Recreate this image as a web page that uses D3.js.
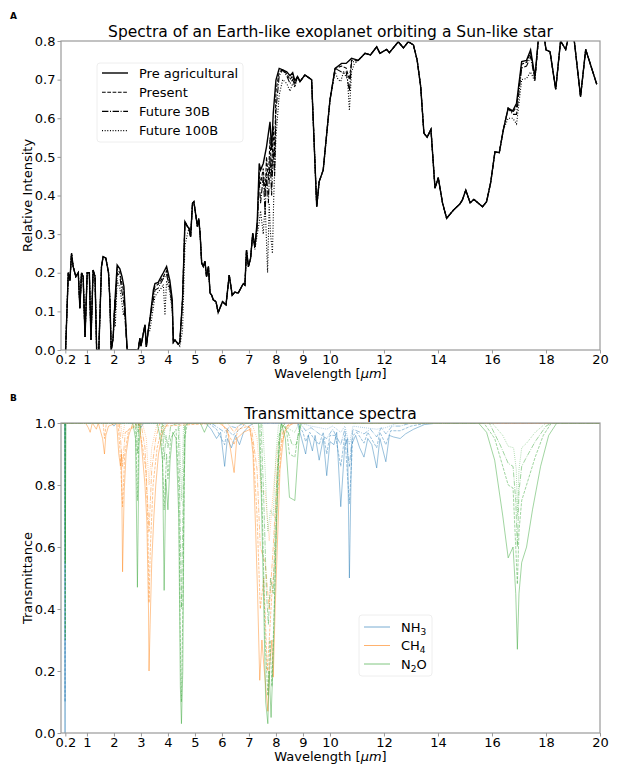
<!DOCTYPE html>
<html lang="en">

<head>
    <meta charset="UTF-8">
    <title>Exoplanet spectra</title>
    <script src="https://cdn.jsdelivr.net/npm/d3@7"></script>

    <style type="text/css">
        body { margin: 0; background: #fff; }
        svg text { font-family: "DejaVu Sans", sans-serif; fill: #000; }
        .spine { fill: none; stroke: #9a9a9a; stroke-width: 1.2; }
        .tick line { stroke: #9a9a9a; }
    </style>
</head>

<body>

    <svg id="chart"></svg>

    <script>

        // ---------- data ----------

        var xTicks = [0.2, 1, 2, 3, 4, 5, 6, 7, 8, 9, 10, 12, 14, 16, 18, 20];
        var yTicksA = [0, 0.1, 0.2, 0.3, 0.4, 0.5, 0.6, 0.7, 0.8];
        var yTicksB = [0, 0.2, 0.4, 0.6, 0.8, 1.0];

        var scenarioNames = ["Pre agricultural", "Present", "Future 30B", "Future 100B"];

        // Pre agricultural spectrum [wavelength um, relative intensity]
        var preAgricultural = [
            [0.21, 0], [0.31, 0.2], [0.37, 0.18], [0.43, 0.25], [0.49, 0.216], [0.59, 0.19], [0.68, 0.2],
            [0.74, 0.108], [0.8, 0.2], [0.86, 0.19], [0.93, 0.034], [1.01, 0.2], [1.09, 0.2], [1.15, 0.026],
            [1.23, 0.207], [1.3, 0.19], [1.36, 0], [1.44, 0], [1.54, 0.216], [1.6, 0.242], [1.7, 0.238],
            [1.8, 0.2], [1.85, 0.13], [1.9, 0], [1.97, 0.03], [2.04, 0.13], [2.12, 0.22], [2.22, 0.21],
            [2.3, 0.19], [2.37, 0.164], [2.49, 0], [2.9, 0], [2.96, 0.03], [3.0, 0.01], [3.08, 0.04],
            [3.15, 0.065], [3.2, 0.008], [3.27, 0.05], [3.33, 0.078], [3.46, 0.155], [3.52, 0.172],
            [3.64, 0.175], [3.75, 0.19], [3.83, 0.2], [3.95, 0.216], [4.07, 0.18], [4.16, 0.13], [4.2, 0.02],
            [4.26, 0.026], [4.38, 0.015], [4.44, 0.02], [4.54, 0.13], [4.63, 0.332], [4.72, 0.32],
            [4.78, 0.315], [4.84, 0.293], [4.91, 0.38], [4.96, 0.384], [5.04, 0.345], [5.09, 0.32],
            [5.14, 0.34], [5.19, 0.302], [5.25, 0.225], [5.31, 0.216], [5.37, 0.23], [5.43, 0.19],
            [5.5, 0.216], [5.56, 0.147], [5.62, 0.142], [5.68, 0.13], [5.78, 0.125], [5.86, 0.097],
            [6.02, 0.125], [6.15, 0.117], [6.27, 0.194], [6.38, 0.142], [6.48, 0.15], [6.6, 0.147],
            [6.79, 0.172], [6.85, 0.168], [6.91, 0.259], [6.98, 0.216], [7.06, 0.237], [7.14, 0.302],
            [7.22, 0.267], [7.31, 0.337], [7.38, 0.483], [7.43, 0.466], [7.53, 0.483], [7.65, 0.526],
            [7.78, 0.591], [7.84, 0.518], [7.9, 0.613], [8.0, 0.699], [8.12, 0.729], [8.25, 0.725],
            [8.4, 0.72], [8.52, 0.71], [8.62, 0.718], [8.7, 0.697], [8.8, 0.708], [8.89, 0.695],
            [9.07, 0.712], [9.32, 0.70], [9.51, 0.371], [9.6, 0.436], [9.75, 0.466], [10.0, 0.647],
            [10.19, 0.729], [10.43, 0.742], [10.6, 0.742], [10.8, 0.755], [11.05, 0.75], [11.3, 0.768],
            [11.5, 0.764], [11.73, 0.785], [11.85, 0.768], [12.1, 0.778], [12.2, 0.77], [12.53, 0.798],
            [12.72, 0.782], [12.9, 0.798], [13.09, 0.79], [13.23, 0.75], [13.36, 0.682], [13.48, 0.561],
            [13.6, 0.551], [13.74, 0.571], [13.89, 0.419], [14.01, 0.446], [14.17, 0.38], [14.32, 0.341],
            [14.57, 0.362], [14.81, 0.378], [14.9, 0.388], [15.03, 0.414], [15.19, 0.381], [15.33, 0.39],
            [15.65, 0.371], [15.8, 0.384], [15.95, 0.433], [16.11, 0.513], [16.27, 0.511], [16.42, 0.57],
            [16.6, 0.626], [16.77, 0.619], [16.91, 0.639], [17.1, 0.747], [17.28, 0.75], [17.43, 0.777],
            [17.59, 0.708], [17.75, 0.83], [17.9, 0.83], [18.0, 0.777], [18.15, 0.772], [18.36, 0.675],
            [18.54, 0.8], [18.73, 0.778], [18.89, 0.83], [19.0, 0.83], [19.28, 0.656], [19.47, 0.778],
            [19.88, 0.688]
        ];

        // the other scenarios only differ from pre agricultural inside these bands
        var presentBands = [
            [[2.05, 0.12], [2.12, 0.21], [2.22, 0.2], [2.3, 0.17], [2.37, 0.15], [2.49, 0]],
            [[3.46, 0.145], [3.52, 0.165], [3.64, 0.17], [3.83, 0.19], [3.95, 0.205], [4.07, 0.17], [4.16, 0.12]],
            [[7.31, 0.33], [7.38, 0.46], [7.43, 0.43], [7.53, 0.47], [7.6, 0.4], [7.65, 0.5], [7.72, 0.44],
             [7.78, 0.55], [7.84, 0.45], [7.9, 0.58], [7.95, 0.5], [8.0, 0.67], [8.12, 0.72]],
            [[8.4, 0.715], [8.52, 0.7], [8.62, 0.71], [8.7, 0.69]],
            [[10.43, 0.735], [10.6, 0.73], [10.72, 0.7], [10.8, 0.75]],
            [[16.77, 0.615], [16.91, 0.63], [17.1, 0.74], [17.28, 0.745], [17.43, 0.77], [17.59, 0.7]]
        ];

        var future30Bands = [
            [[2.05, 0.1], [2.12, 0.2], [2.22, 0.19], [2.3, 0.15], [2.37, 0.12], [2.49, 0]],
            [[3.46, 0.13], [3.52, 0.155], [3.64, 0.16], [3.83, 0.185], [3.95, 0.195], [4.07, 0.16], [4.16, 0.11]],
            [[7.31, 0.32], [7.38, 0.44], [7.43, 0.38], [7.53, 0.45], [7.6, 0.35], [7.65, 0.46], [7.72, 0.38],
             [7.78, 0.5], [7.84, 0.4], [7.9, 0.52], [7.95, 0.45], [8.0, 0.62], [8.12, 0.71]],
            [[8.4, 0.71], [8.52, 0.69], [8.62, 0.7], [8.7, 0.685]],
            [[10.43, 0.72], [10.6, 0.72], [10.72, 0.67], [10.8, 0.745]],
            [[16.77, 0.61], [16.91, 0.61], [17.1, 0.73], [17.28, 0.735], [17.43, 0.76], [17.59, 0.7]]
        ];

        var future100Bands = [
            [[2.05, 0.06], [2.12, 0.18], [2.22, 0.16], [2.3, 0.12], [2.35, 0.09], [2.4, 0.11], [2.49, 0]],
            [[3.33, 0.05], [3.46, 0.11], [3.52, 0.14], [3.64, 0.15], [3.75, 0.16], [3.83, 0.17], [3.89, 0.09],
             [3.95, 0.18], [4.07, 0.15], [4.16, 0.1]],
            [[4.44, 0.01], [4.54, 0.05], [4.63, 0.27], [4.72, 0.3]],
            [[7.22, 0.26], [7.31, 0.3], [7.38, 0.33], [7.43, 0.36], [7.53, 0.3], [7.6, 0.38], [7.69, 0.2],
             [7.75, 0.38], [7.8, 0.3], [7.87, 0.25], [7.92, 0.4], [8.0, 0.55], [8.12, 0.66], [8.25, 0.7]],
            [[8.4, 0.69], [8.52, 0.67], [8.62, 0.69], [8.7, 0.68]],
            [[10.19, 0.72], [10.3, 0.7], [10.4, 0.695], [10.5, 0.72], [10.65, 0.7], [10.72, 0.62], [10.8, 0.72], [10.9, 0.74]],
            [[16.6, 0.6], [16.77, 0.6], [16.91, 0.585], [17.1, 0.7], [17.28, 0.703], [17.43, 0.72], [17.59, 0.695]]
        ];

        // Transmittance, four concentrations per gas [wavelength um, transmittance]
        var nh3Lines = [
            [[0.04, 1], [0.17, 1], [0.19, 0], [0.21, 1], [1.9, 1], [2.0, 0.99], [2.1, 1], [2.9, 1], [3.0, 0.985],
             [3.1, 1], [5.4, 1], [5.6, 0.98], [5.8, 0.95], [5.95, 0.97], [6.1, 0.86], [6.2, 0.95], [6.35, 0.92],
             [6.5, 0.96], [6.65, 0.93], [6.8, 0.97], [7.0, 0.99], [7.2, 1], [8.8, 1], [8.95, 0.95], [9.1, 0.9],
             [9.2, 0.96], [9.35, 0.91], [9.45, 0.96], [9.6, 0.88], [9.75, 0.95], [9.88, 0.83], [10.0, 0.94],
             [10.15, 0.93], [10.25, 0.97], [10.4, 0.73], [10.55, 0.93], [10.65, 0.95], [10.72, 0.5], [10.8, 0.93],
             [10.95, 0.96], [11.1, 0.92], [11.26, 0.89], [11.4, 0.95], [11.55, 0.93], [11.73, 0.855], [11.85, 0.95],
             [12.07, 0.875], [12.2, 0.96], [12.35, 0.955], [12.6, 0.95], [12.8, 0.965], [13.1, 0.98], [13.5, 0.995],
             [14, 1], [20, 1]],
            [[0.04, 1], [0.18, 1], [0.19, 0.1], [0.2, 1], [5.5, 1], [5.8, 0.98], [6.1, 0.93], [6.2, 0.98], [6.4, 0.96],
             [6.6, 0.975], [6.9, 1], [8.8, 1], [9.0, 0.97], [9.1, 0.94], [9.25, 0.97], [9.4, 0.95], [9.6, 0.93],
             [9.75, 0.97], [9.88, 0.9], [10.0, 0.96], [10.2, 0.96], [10.4, 0.86], [10.55, 0.96], [10.72, 0.74],
             [10.85, 0.96], [11.0, 0.97], [11.26, 0.935], [11.4, 0.97], [11.73, 0.92], [11.85, 0.97], [12.07, 0.93],
             [12.25, 0.975], [12.6, 0.975], [13.0, 0.99], [13.6, 1], [20, 1]],
            [[0.04, 1], [5.6, 1], [6.1, 0.97], [6.3, 0.99], [6.5, 0.985], [6.8, 1], [8.9, 1], [9.1, 0.975],
             [9.3, 0.985], [9.6, 0.965], [9.88, 0.95], [10.1, 0.98], [10.4, 0.93], [10.55, 0.98], [10.72, 0.86],
             [10.85, 0.98], [11.26, 0.965], [11.5, 0.98], [11.73, 0.955], [11.9, 0.985], [12.07, 0.965],
             [12.3, 0.99], [12.6, 0.99], [13.0, 1], [20, 1]],
            [[0.04, 1], [8.9, 1], [9.3, 0.99], [9.6, 0.985], [9.88, 0.98], [10.1, 0.99], [10.4, 0.97], [10.55, 0.99],
             [10.72, 0.93], [10.85, 0.99], [11.26, 0.985], [11.73, 0.98], [12.07, 0.985], [12.5, 1], [20, 1]]
        ];

        var ch4Lines = [
            [[0.04, 1], [0.95, 1], [1.05, 0.985], [1.12, 0.97], [1.2, 1], [1.35, 0.98], [1.42, 1], [1.58, 0.95],
             [1.65, 0.9], [1.7, 0.96], [1.8, 0.99], [2.1, 1], [2.18, 0.9], [2.24, 0.86], [2.28, 0.9], [2.32, 0.52],
             [2.38, 0.78], [2.45, 0.9], [2.55, 0.96], [2.7, 1], [2.95, 1], [3.05, 0.9], [3.15, 0.8], [3.22, 0.68],
             [3.28, 0.4], [3.3, 0.2], [3.34, 0.35], [3.4, 0.55], [3.48, 0.7], [3.55, 0.8], [3.65, 0.9], [3.8, 0.97],
             [4.0, 1], [5.9, 1], [6.2, 0.98], [6.45, 0.84], [6.55, 0.95], [6.8, 0.97], [7.05, 0.98], [7.15, 0.9],
             [7.25, 0.65], [7.32, 0.45], [7.4, 0.17], [7.48, 0.3], [7.55, 0.22], [7.65, 0.12], [7.7, 0.07],
             [7.75, 0.2], [7.85, 0.3], [7.9, 0.18], [7.97, 0.4], [8.05, 0.6], [8.15, 0.85], [8.3, 0.97], [8.6, 1],
             [20, 1]],
            [[0.04, 1], [1.6, 1], [1.65, 0.95], [1.72, 1], [2.15, 1], [2.22, 0.92], [2.32, 0.73], [2.4, 0.9],
             [2.55, 0.98], [2.9, 1], [3.05, 0.93], [3.18, 0.85], [3.25, 0.7], [3.3, 0.42], [3.35, 0.6], [3.45, 0.8],
             [3.6, 0.92], [3.8, 0.99], [6.0, 1], [6.45, 0.93], [6.6, 0.98], [7.0, 0.99], [7.15, 0.93], [7.3, 0.7],
             [7.42, 0.4], [7.55, 0.5], [7.68, 0.2], [7.75, 0.3], [7.85, 0.45], [7.95, 0.55], [8.05, 0.75],
             [8.2, 0.93], [8.4, 0.99], [8.7, 1], [20, 1]],
            [[0.04, 1], [2.2, 1], [2.32, 0.86], [2.42, 0.97], [3.0, 1], [3.15, 0.92], [3.3, 0.65], [3.4, 0.85],
             [3.55, 0.95], [3.7, 1], [6.2, 1], [6.45, 0.97], [6.7, 1], [7.1, 0.98], [7.3, 0.85], [7.42, 0.6],
             [7.6, 0.55], [7.75, 0.4], [7.9, 0.6], [8.05, 0.85], [8.25, 0.97], [8.5, 1], [20, 1]],
            [[0.04, 1], [2.25, 1], [2.32, 0.95], [2.4, 1], [3.05, 1], [3.2, 0.95], [3.3, 0.8], [3.4, 0.92],
             [3.6, 1], [7.1, 1], [7.3, 0.95], [7.45, 0.78], [7.6, 0.78], [7.75, 0.62], [7.9, 0.78], [8.05, 0.92],
             [8.3, 1], [20, 1]]
        ];

        var n2oLines = [
            [[0.04, 1], [0.18, 1], [0.2, 0.55], [0.22, 1], [2.7, 1], [2.8, 0.95], [2.87, 0.47], [2.93, 0.93],
             [3.0, 1], [3.6, 1], [3.7, 0.96], [3.8, 0.88], [3.86, 0.46], [3.92, 0.82], [4.0, 0.72], [4.08, 0.88],
             [4.18, 0.97], [4.3, 0.95], [4.4, 0.7], [4.46, 0.15], [4.5, 0.03], [4.55, 0.2], [4.6, 0.8],
             [4.65, 0.99], [4.72, 1], [5.2, 1], [5.35, 0.97], [5.5, 1], [7.35, 1], [7.45, 0.8], [7.55, 0.4],
             [7.62, 0.1], [7.7, 0.03], [7.75, 0.2], [7.82, 0.05], [7.9, 0.25], [8.0, 0.6], [8.1, 0.9], [8.2, 1],
             [8.35, 0.95], [8.5, 0.76], [8.7, 0.75], [8.8, 0.88], [8.9, 1], [15.5, 1], [15.8, 0.97], [16.1, 0.88],
             [16.4, 0.7], [16.6, 0.565], [16.78, 0.6], [16.88, 0.45], [16.94, 0.27], [17.0, 0.45], [17.1, 0.55],
             [17.28, 0.6], [17.5, 0.72], [17.8, 0.86], [18.1, 0.96], [18.4, 1], [20, 1]],
            [[0.04, 1], [0.19, 1], [0.2, 0.3], [0.21, 1], [2.8, 1], [2.87, 0.75], [2.93, 1], [3.75, 1],
             [3.86, 0.72], [3.95, 0.9], [4.0, 0.82], [4.1, 0.95], [4.3, 0.98], [4.4, 0.8], [4.46, 0.3], [4.5, 0.1],
             [4.55, 0.4], [4.62, 0.95], [4.72, 1], [7.4, 1], [7.5, 0.7], [7.6, 0.3], [7.7, 0.12], [7.78, 0.3],
             [7.85, 0.15], [7.95, 0.45], [8.05, 0.8], [8.15, 0.97], [8.3, 1], [8.4, 0.97], [8.5, 0.9], [8.7, 0.89],
             [8.8, 0.95], [8.95, 1], [15.7, 1], [16.1, 0.95], [16.4, 0.86], [16.6, 0.8], [16.78, 0.79],
             [16.88, 0.6], [16.94, 0.48], [17.0, 0.65], [17.1, 0.75], [17.28, 0.8], [17.6, 0.89], [17.9, 0.96],
             [18.2, 1], [20, 1]],
            [[0.04, 1], [2.82, 1], [2.87, 0.9], [2.92, 1], [3.8, 1], [3.86, 0.88], [3.93, 0.96], [4.0, 0.92],
             [4.1, 0.99], [4.38, 1], [4.43, 0.8], [4.5, 0.4], [4.57, 0.8], [4.62, 1], [7.45, 1], [7.55, 0.75],
             [7.65, 0.45], [7.72, 0.35], [7.8, 0.5], [7.9, 0.45], [8.0, 0.75], [8.1, 0.95], [8.2, 1], [8.45, 0.97],
             [8.6, 0.93], [8.75, 0.93], [8.9, 1], [15.9, 1], [16.3, 0.93], [16.6, 0.87], [16.78, 0.86],
             [16.88, 0.75], [16.94, 0.6], [17.0, 0.78], [17.1, 0.86], [17.28, 0.89], [17.6, 0.94], [18.0, 0.99],
             [18.2, 1], [20, 1]],
            [[0.04, 1], [2.85, 1], [2.87, 0.97], [2.9, 1], [3.83, 1], [3.86, 0.95], [3.9, 1], [4.42, 1],
             [4.5, 0.75], [4.58, 1], [7.5, 1], [7.6, 0.85], [7.7, 0.65], [7.8, 0.72], [7.9, 0.7], [8.0, 0.9],
             [8.1, 1], [8.5, 0.98], [8.7, 0.97], [8.85, 1], [16.0, 1], [16.4, 0.96], [16.6, 0.925], [16.8, 0.92],
             [16.9, 0.85], [16.94, 0.7], [17.0, 0.85], [17.1, 0.92], [17.28, 0.935], [17.6, 0.97], [18.0, 1],
             [20, 1]]
        ];

        // ---------- layout ----------

        var width = 623;
        var height = 779;
        var left = 61, right = 600;
        var panelA = {top: 41, bottom: 350};
        var panelB = {top: 423, bottom: 733};

        var dashesA = [null, "3.7,1.6", "6.4,1.6,1,1.6", "1,1.65"];
        var dashesB = [null, "3,1.3", "5,1.3,0.8,1.3", "0.8,1.3"];

        var gases = [
            {name: "NH", sub: "3", after: "", color: "#1f77b4", lines: nh3Lines},
            {name: "CH", sub: "4", after: "", color: "#ff7f0e", lines: ch4Lines},
            {name: "N", sub: "2", after: "O", color: "#2ca02c", lines: n2oLines}
        ];

        var svg = d3.select("#chart")
            .attr("width", width)
            .attr("height", height);

        var x = d3.scaleLinear().domain([0.04, 20]).range([left, right]);
        var yA = d3.scaleLinear().domain([0, 0.8]).range([panelA.bottom, panelA.top]);
        var yB = d3.scaleLinear().domain([0, 1]).range([panelB.bottom, panelB.top]);

        // merge the pre agricultural curve with a scenario's own bands
        function withBands(base, bands) {
            var kept = base.filter(function (p) {
                return !bands.some(function (b) {
                    return p[0] >= b[0][0] && p[0] <= b[b.length - 1][0];
                });
            });
            return kept.concat.apply(kept, bands).sort(function (a, b) {
                return a[0] - b[0];
            });
        }

        function drawAxes(y, yTicks, panel, title, yLabel, letter) {
            var g = svg.append("g");

            g.append("g")
                .attr("transform", "translate(0," + panel.bottom + ")")
                .call(d3.axisBottom(x).tickValues(xTicks).tickSize(3.5).tickPadding(1)
                    .tickFormat(function (d) { return d === 0.2 ? "0.2" : d; }))
                .call(function (a) {
                    a.select(".domain").remove();
                    a.selectAll("text").attr("font-size", 13);
                });

            g.append("g")
                .attr("transform", "translate(" + left + ",0)")
                .call(d3.axisLeft(y).tickValues(yTicks).tickSize(3.5).tickPadding(2).tickFormat(d3.format(".1f")))
                .call(function (a) {
                    a.select(".domain").remove();
                    a.selectAll("text").attr("font-size", 13);
                });

            g.append("rect")
                .attr("class", "spine")
                .attr("x", left)
                .attr("y", panel.top)
                .attr("width", right - left)
                .attr("height", panel.bottom - panel.top);

            g.append("text")
                .attr("x", (left + right) / 2)
                .attr("y", panel.top - 4)
                .attr("text-anchor", "middle")
                .attr("font-size", 15.5)
                .text(title);

            var xl = g.append("text")
                .attr("x", (left + right) / 2)
                .attr("y", panel.bottom + 27.5)
                .attr("text-anchor", "middle")
                .attr("font-size", 13);
            xl.append("tspan").text("Wavelength [");
            xl.append("tspan").attr("font-style", "italic").text("\u03bcm");
            xl.append("tspan").text("]");

            g.append("text")
                .attr("transform", "translate(32," + (panel.top + panel.bottom) / 2 + ") rotate(-90)")
                .attr("text-anchor", "middle")
                .attr("font-size", 13)
                .text(yLabel);

            g.append("text")
                .attr("x", 10)
                .attr("y", panel.top - 22)
                .attr("font-size", 9)
                .attr("font-weight", "bold")
                .text(letter);
        }

        // clip paths for each plot area
        var defs = svg.append("defs");
        [["clipA", panelA], ["clipB", panelB]].forEach(function (c) {
            defs.append("clipPath").attr("id", c[0])
                .append("rect")
                .attr("x", left).attr("y", c[1].top)
                .attr("width", right - left).attr("height", c[1].bottom - c[1].top);
        });

        // ---------- panel A ----------

        var seriesA = [
            preAgricultural,
            withBands(preAgricultural, presentBands),
            withBands(preAgricultural, future30Bands),
            withBands(preAgricultural, future100Bands)
        ];

        var lineA = d3.line()
            .x(function (d) { return x(d[0]); })
            .y(function (d) { return yA(d[1]); });

        svg.append("g")
            .attr("clip-path", "url(#clipA)")
            .selectAll("path")
            .data(seriesA.slice().reverse())
            .enter()
            .append("path")
            .attr("d", lineA)
            .attr("fill", "none")
            .attr("stroke", "#000")
            .attr("stroke-width", function (d, i) { return i === 3 ? 1.4 : 1.1; })
            .attr("stroke-dasharray", function (d, i) { return dashesA[3 - i]; });

        drawAxes(yA, yTicksA, panelA, "Spectra of an Earth-like exoplanet orbiting a Sun-like star",
            "Relative Intensity", "A");

        var legA = svg.append("g").attr("transform", "translate(97,63)");
        legA.append("rect")
            .attr("width", 146).attr("height", 79).attr("rx", 3)
            .attr("fill", "#fff").attr("fill-opacity", 0.8)
            .attr("stroke", "#eeeeee");
        scenarioNames.forEach(function (name, i) {
            var yy = 10 + i * 19.2;
            legA.append("line")
                .attr("x1", 5).attr("x2", 31).attr("y1", yy).attr("y2", yy)
                .attr("stroke", "#000").attr("stroke-width", i === 0 ? 1.4 : 1.1)
                .attr("stroke-dasharray", dashesA[i]);
            legA.append("text")
                .attr("x", 42).attr("y", yy + 4.6)
                .attr("font-size", 13)
                .text(name);
        });

        // ---------- panel B ----------

        var lineB = d3.line()
            .x(function (d) { return x(d[0]); })
            .y(function (d) { return yB(d[1]); });

        var plotB = svg.append("g").attr("clip-path", "url(#clipB)");
        gases.forEach(function (gas) {
            plotB.append("g")
                .selectAll("path")
                .data(gas.lines)
                .enter()
                .append("path")
                .attr("d", lineB)
                .attr("fill", "none")
                .attr("stroke", gas.color)
                .attr("stroke-opacity", 0.6)
                .attr("stroke-width", 0.75)
                .attr("stroke-dasharray", function (d, i) { return dashesB[i]; });
        });

        drawAxes(yB, yTicksB, panelB, "Transmittance spectra", "Transmittance", "B");

        var legB = svg.append("g").attr("transform", "translate(359,615)");
        legB.append("rect")
            .attr("width", 73).attr("height", 61).attr("rx", 3)
            .attr("fill", "#fff").attr("fill-opacity", 0.8)
            .attr("stroke", "#eeeeee");
        gases.forEach(function (gas, i) {
            var yy = 12 + i * 18.5;
            legB.append("line")
                .attr("x1", 5).attr("x2", 31).attr("y1", yy).attr("y2", yy)
                .attr("stroke", gas.color).attr("stroke-opacity", 0.6).attr("stroke-width", 1);
            var t = legB.append("text")
                .attr("x", 42).attr("y", yy + 4.6)
                .attr("font-size", 13);
            t.append("tspan").text(gas.name);
            t.append("tspan").attr("font-size", 9).attr("dy", 3).text(gas.sub);
            if (gas.after) {
                t.append("tspan").attr("dy", -3).text(gas.after);
            }
        });

    </script>

</body>

</html>
